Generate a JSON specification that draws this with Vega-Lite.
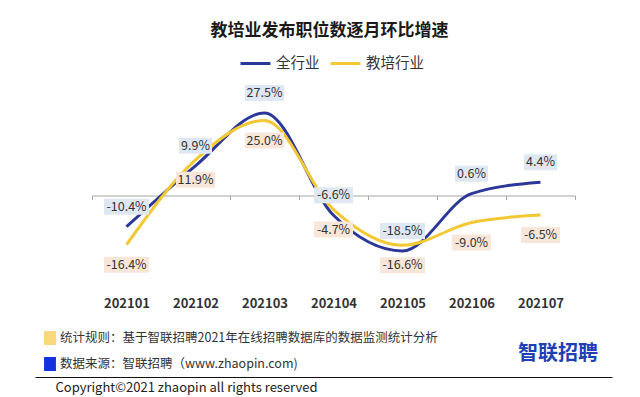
{
  "$schema": "https://vega.github.io/schema/vega-lite/v6.json",
  "padding": {"left": 44, "top": 22, "right": 19, "bottom": 2},
  "background": "white",
  "config": {
    "font": "Noto Sans CJK SC",
    "view": {"stroke": null},
    "locale": {"number": {"decimal": ".", "thousands": ",", "grouping": [3], "currency": ["", ""], "minus": "-"}}
  },
  "title": {"text": "教培业发布职位数逐月环比增速", "fontSize": 17, "fontWeight": "bold", "color": "#1a1a1a", "anchor": "middle", "offset": 7, "dx": -27},
  "spacing": 15,
  "vconcat": [
    {
      "width": 483,
      "height": 195,
      "data": {"values": [
        {"month": "202101", "series": "全行业", "rate": -0.104},
        {"month": "202102", "series": "全行业", "rate": 0.099},
        {"month": "202103", "series": "全行业", "rate": 0.275},
        {"month": "202104", "series": "全行业", "rate": -0.066},
        {"month": "202105", "series": "全行业", "rate": -0.185},
        {"month": "202106", "series": "全行业", "rate": 0.006},
        {"month": "202107", "series": "全行业", "rate": 0.044},
        {"month": "202101", "series": "教培行业", "rate": -0.164},
        {"month": "202102", "series": "教培行业", "rate": 0.119},
        {"month": "202103", "series": "教培行业", "rate": 0.25},
        {"month": "202104", "series": "教培行业", "rate": -0.047},
        {"month": "202105", "series": "教培行业", "rate": -0.166},
        {"month": "202106", "series": "教培行业", "rate": -0.09},
        {"month": "202107", "series": "教培行业", "rate": -0.065}
      ]},
      "encoding": {
        "x": {"field": "month", "type": "ordinal", "sort": null,
          "scale": {"paddingInner": 0, "paddingOuter": 0},
          "axis": {"orient": "bottom", "offset": -79.5, "domain": true, "domainColor": "#a6a6a6", "ticks": true, "tickColor": "#a6a6a6", "tickSize": 4, "tickBand": "extent", "labelPadding": 97.5, "labelFontSize": 13, "labelFontWeight": "bold", "labelColor": "#333333", "labelAngle": 0, "title": null, "grid": false}},
        "y": {"field": "rate", "type": "quantitative",
          "scale": {"domain": [-0.265, 0.385], "nice": false, "zero": false},
          "axis": null}
      },
      "layer": [
        {
          "mark": {"type": "line", "interpolate": "monotone", "strokeWidth": 3},
          "encoding": {
            "color": {"field": "series", "type": "nominal",
              "scale": {"domain": ["全行业", "教培行业"], "range": ["#2b3899", "#f2c834"]},
              "legend": {"orient": "none", "legendX": 147, "legendY": -33, "direction": "horizontal", "title": null, "symbolType": "stroke", "symbolSize": 900, "symbolStrokeWidth": 3, "labelFontSize": 14.5, "labelColor": "#333333", "labelOffset": 4, "columnPadding": 4}}
          }
        },
        {
          "transform": [{"filter": "datum.series === '全行业'"}],
          "mark": {"type": "rect", "height": 16, "width": {"expr": "6*length(format(datum.rate,'.1%'))+9"}, "yOffset": -20, "color": "#dfe8f2"}
        },
        {
          "transform": [{"filter": "datum.series === '全行业'"}],
          "mark": {"type": "text", "yOffset": -20, "fontSize": 12.5, "color": "#333333"},
          "encoding": {"text": {"field": "rate", "type": "quantitative", "format": ".1%"}}
        },
        {
          "transform": [{"filter": "datum.series === '教培行业'"}],
          "mark": {"type": "rect", "height": 16, "width": {"expr": "6*length(format(datum.rate,'.1%'))+9"}, "yOffset": 20, "color": "#f8e6d8"}
        },
        {
          "transform": [{"filter": "datum.series === '教培行业'"}],
          "mark": {"type": "text", "yOffset": 20, "fontSize": 12.5, "color": "#333333"},
          "encoding": {"text": {"field": "rate", "type": "quantitative", "format": ".1%"}}
        }
      ]
    },
    {
      "width": 520,
      "height": 52,
      "data": {"values": [
        {"note": "统计规则：基于智联招聘2021年在线招聘数据库的数据监测统计分析", "kind": "统计规则"},
        {"note": "数据来源：智联招聘（www.zhaopin.com)", "kind": "数据来源"}
      ]},
      "encoding": {
        "x": {"datum": 0, "type": "quantitative",
          "scale": {"domain": [0, 1], "range": [-57, 520]},
          "axis": {"orient": "bottom", "domain": true, "domainColor": "#111111", "domainWidth": 1, "ticks": false, "labels": false, "grid": false,
            "title": "Copyright©2021 zhaopin all rights reserved", "titleAnchor": "start", "titleAlign": "left", "titleX": -37, "titleFontSize": 13, "titleFontWeight": "normal", "titleColor": "#222222", "titlePadding": 4}}
      },
      "layer": [
        {
          "mark": {"type": "point", "shape": "M-0.85,-1H0.85V1H-0.85Z", "filled": true, "size": 196, "opacity": 1, "xOffset": 15},
          "encoding": {
            "y": {"field": "note", "type": "nominal", "sort": null, "scale": {"type": "point", "padding": 0.5}, "axis": null},
            "fill": {"field": "kind", "type": "nominal", "scale": {"domain": ["统计规则", "数据来源"], "range": ["#f9d77a", "#1232e0"]}, "legend": null}
          }
        },
        {
          "mark": {"type": "text", "align": "left", "dx": 25, "fontSize": 12.5, "color": "#333333"},
          "encoding": {
            "y": {"field": "note", "type": "nominal", "sort": null, "scale": {"type": "point", "padding": 0.5}, "axis": null},
            "text": {"field": "note"}
          }
        },
        {
          "data": {"values": [{"brand": "智联招聘"}]},
          "mark": {"type": "text", "align": "right", "dx": -14, "dy": 3, "fontSize": 20, "fontWeight": "bold", "color": "#1f3fb4"},
          "encoding": {
            "x": {"datum": 1, "type": "quantitative"},
            "text": {"field": "brand"}
          }
        }
      ]
    }
  ]
}
